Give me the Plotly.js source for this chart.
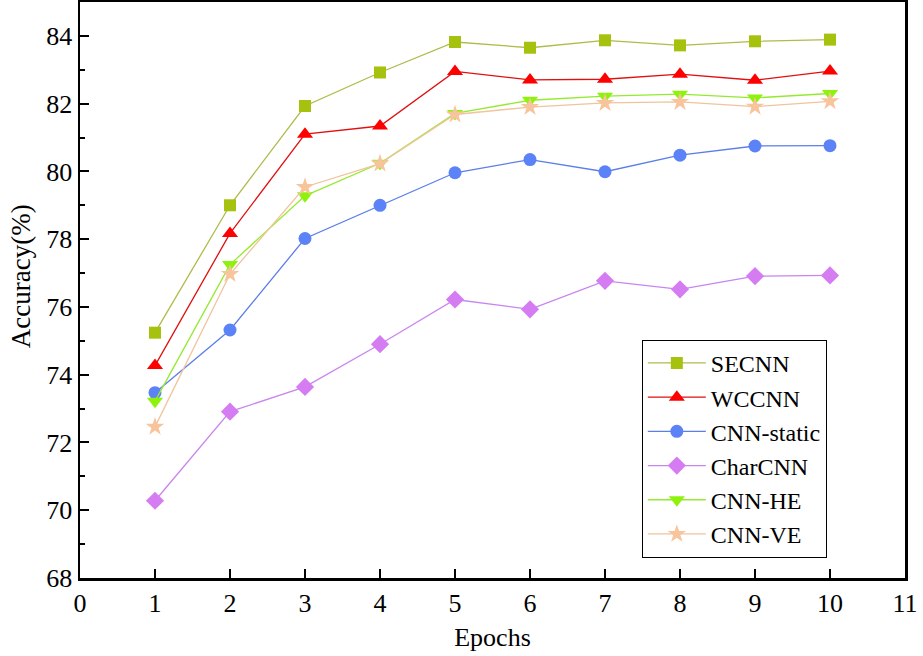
<!DOCTYPE html>
<html>
<head>
<meta charset="utf-8">
<script src="https://cdn.plot.ly/plotly-3.0.1.min.js"></script>
<style>html,body{margin:0;padding:0;background:#fff;}#chart{width:923px;height:656px;}</style>
</head>
<body>
<div id="chart"></div>
<script>
const epochs = [1, 2, 3, 4, 5, 6, 7, 8, 9, 10];
const secnn     = [75.24, 79.00, 81.93, 82.92, 83.82, 83.65, 83.87, 83.72, 83.84, 83.89];
const wccnn     = [74.27, 78.17, 81.10, 81.34, 82.95, 82.70, 82.72, 82.87, 82.69, 82.96];
const cnnStatic = [73.47, 75.32, 78.02, 79.00, 79.96, 80.35, 79.99, 80.48, 80.75, 80.76];
const charCnn   = [70.28, 72.91, 73.64, 74.90, 76.22, 75.93, 76.77, 76.52, 76.91, 76.93];
const cnnHE     = [73.22, 77.25, 79.28, 80.24, 81.71, 82.10, 82.22, 82.28, 82.17, 82.30];
const cnnVE     = [72.46, 76.97, 79.54, 80.23, 81.68, 81.90, 82.02, 82.05, 81.91, 82.07];
const seriesNames = ["SECNN", "WCCNN", "CNN-static", "CharCNN", "CNN-HE", "CNN-VE"];
const xTicks = [0, 1, 2, 3, 4, 5, 6, 7, 8, 9, 10, 11];
const yTicks = [68, 70, 72, 74, 76, 78, 80, 82, 84];

const seriesData = [secnn, wccnn, cnnStatic, charCnn, cnnHE, cnnVE];
const colors = ["#a6c20f", "#ff0000", "#5b82f6", "#d67cf3", "#8ef20c", "#f8c49c"];
const lineColors = ["#b0bb4a", "#e01010", "#5b7ee8", "#c985ee", "#95ea30", "#f0c49c"];
const symbols = ["square", "triangle-up", "circle", "diamond", "triangle-down", "star"];
const sizes = [12, 14, 13, 14, 14, 14];

const traces = seriesData.map((ys, i) => ({
  x: epochs,
  y: ys,
  name: seriesNames[i],
  type: "scatter",
  mode: "lines+markers",
  line: {color: lineColors[i], width: 1.3},
  marker: {symbol: symbols[i], color: colors[i], size: sizes[i], line: {width: 0}}
}));

const fam = "Liberation Serif, Times New Roman, serif";

const layout = {
  width: 923, height: 656,
  margin: {l: 80, r: 18, t: 2, b: 78},
  paper_bgcolor: "#fff", plot_bgcolor: "#fff",
  font: {family: fam, color: "#000", size: 26},
  showlegend: true,
  legend: {
    x: 0.681, y: 0.035, xanchor: "left", yanchor: "bottom",
    bordercolor: "#000", borderwidth: 1, bgcolor: "#fff",
    font: {family: fam, size: 24, color: "#000"},
    tracegroupgap: 0, itemwidth: 58
  },
  xaxis: {
    range: [0, 11], tickvals: xTicks, ticktext: xTicks.map(String),
    ticks: "inside", ticklen: 9, tickwidth: 2, tickcolor: "#000",
    showline: true, linecolor: "#000", linewidth: 2.5, mirror: true,
    showgrid: false, zeroline: false,
    tickfont: {family: fam, size: 26, color: "#000"},
    title: {text: "Epochs", font: {family: fam, size: 26, color: "#000"}, standoff: 11}
  },
  yaxis: {
    range: [68, 85], tickvals: yTicks, ticktext: yTicks.map(String),
    ticks: "inside", ticklen: 9, tickwidth: 2, tickcolor: "#000",
    minor: {ticks: "inside", dtick: 1, tick0: 69, ticklen: 5, tickwidth: 2, tickcolor: "#000"},
    showline: true, linecolor: "#000", linewidth: 2.5, mirror: true,
    showgrid: false, zeroline: false,
    tickfont: {family: fam, size: 26, color: "#000"}
  },
  annotations: [{
    text: "Accuracy(%)", textangle: -90, showarrow: false,
    xref: "paper", yref: "paper", x: -0.0715, y: 0.524,
    xanchor: "center", yanchor: "middle",
    font: {family: fam, size: 27, color: "#000"}
  }]
};

Plotly.newPlot("chart", traces, layout, {displayModeBar: false, staticPlot: true});
</script>
</body>
</html>
